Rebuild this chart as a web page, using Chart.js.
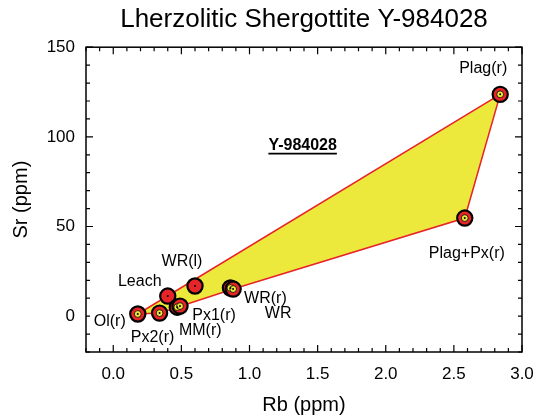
<!DOCTYPE html>
<html>
<head>
<meta charset="utf-8">
<script src="https://cdn.jsdelivr.net/npm/chart.js@4/dist/chart.umd.min.js"></script>
<style>
  body { margin: 0; background: #fff; }
  #wrap { width: 536px; height: 418px; }
</style>
</head>
<body>
<div id="wrap"><canvas id="srRbChart"></canvas></div>
<script>
// 試料名と Rb / Sr (ppm)
const names = ["Ol(r)", "Px2(r)", "Leach", "MM(r)", "Px1(r)", "WR(l)", "WR(r)", "WR", "Plag+Px(r)", "Plag(r)"];
const rb = [0.18, 0.34, 0.40, 0.47, 0.49, 0.60, 0.86, 0.88, 2.58, 2.84];
const sr = [1.2, 1.7, 11.2, 5.0, 5.6, 16.8, 15.7, 15.1, 54.7, 123.7];
// 残渣 (r) は黄色の中心付き
const residue = [true, true, false, true, true, false, true, true, true, true];
// 黄色い多角形の頂点（上のインデックス）
const hullOrder = [0, 9, 8, 7, 3, 1, 0];

const FONT = "'Liberation Sans', Arial, sans-serif";
const RED = "#e8242b";
const YELLOW = "#ece83c";

// ラベル位置の微調整（ピクセル）
const labelOffsets = {
  "Ol(r)": [-28, 8],
  "Px2(r)": [-7, 25],
  "Leach": [-28, -14],
  "MM(r)": [23, 23],
  "Px1(r)": [34, 9],
  "WR(l)": [-13, -24],
  "WR(r)": [35, 11],
  "WR": [45, 25],
  "Plag+Px(r)": [2, 36],
  "Plag(r)": [-17, -26],
};

const allPoints = rb.map((x, i) => ({ x, y: sr[i] }));
const hullPoints = hullOrder.map((i) => ({ x: rb[i], y: sr[i] }));
const residuePoints = allPoints.filter((_, i) => residue[i]);

/**
 * 枠・内向き目盛り・ラベル
 */
const framePlugin = {
  id: "frame",
  afterDatasetsDraw(chart) {
    const { ctx, chartArea: a, scales } = chart;
    ctx.save();
    ctx.strokeStyle = "#000";
    ctx.lineWidth = 1.5;
    ctx.strokeRect(a.left, a.top, a.right - a.left, a.bottom - a.top);

    ctx.lineWidth = 1.2;
    scales.x.ticks.forEach((t) => {
      const px = scales.x.getPixelForValue(t.value);
      const len = t.label ? 7 : 4;
      ctx.beginPath();
      ctx.moveTo(px, a.bottom); ctx.lineTo(px, a.bottom - len);
      ctx.moveTo(px, a.top); ctx.lineTo(px, a.top + len);
      ctx.stroke();
    });
    scales.y.ticks.forEach((t) => {
      const py = scales.y.getPixelForValue(t.value);
      const len = t.label ? 7 : 4;
      ctx.beginPath();
      ctx.moveTo(a.left, py); ctx.lineTo(a.left + len, py);
      ctx.moveTo(a.right, py); ctx.lineTo(a.right - len, py);
      ctx.stroke();
    });

    // 試料ラベル
    ctx.fillStyle = "#000";
    ctx.font = "16px " + FONT;
    ctx.textAlign = "center";
    ctx.textBaseline = "middle";
    names.forEach((n, i) => {
      const [dx, dy] = labelOffsets[n];
      const px = scales.x.getPixelForValue(rb[i]);
      const py = scales.y.getPixelForValue(sr[i]);
      ctx.fillText(n, px + dx, py + dy);
    });

    // 試料名（太字・下線）
    ctx.font = "bold 16px " + FONT;
    const tx = scales.x.getPixelForValue(1.39);
    const ty = scales.y.getPixelForValue(95.4);
    ctx.fillText("Y-984028", tx, ty);
    const w = ctx.measureText("Y-984028").width;
    ctx.lineWidth = 1.6;
    ctx.beginPath();
    ctx.moveTo(tx - w / 2, ty + 8.5);
    ctx.lineTo(tx + w / 2, ty + 8.5);
    ctx.stroke();
    ctx.restore();
  },
};

new Chart(document.getElementById("srRbChart"), {
  type: "scatter",
  data: {
    datasets: [
      {
        label: "hull",
        data: hullPoints,
        showLine: true,
        borderColor: RED,
        borderWidth: 1.5,
        backgroundColor: YELLOW,
        fill: "shape",
        pointRadius: 0,
        tension: 0,
        order: 4,
      },
      {
        label: "samples",
        data: allPoints,
        pointRadius: 7.6,
        backgroundColor: RED,
        borderColor: "#000",
        borderWidth: 2.2,
        order: 3,
      },
      {
        label: "residue",
        data: residuePoints,
        pointRadius: 3.4,
        backgroundColor: YELLOW,
        borderColor: "#000",
        borderWidth: 0.8,
        order: 2,
      },
      {
        label: "center",
        data: allPoints,
        pointRadius: 1,
        backgroundColor: "#000",
        borderWidth: 0,
        order: 1,
      },
    ],
  },
  options: {
    responsive: true,
    maintainAspectRatio: false,
    animation: false,
    layout: { padding: { left: 0, right: 14, top: 0, bottom: 0 } },
    plugins: {
      legend: { display: false },
      tooltip: { enabled: false },
      title: {
        display: true,
        fullSize: false,
        text: "Lherzolitic Shergottite Y-984028",
        color: "#000",
        font: { size: 26, family: FONT, weight: "normal" },
        padding: { top: 4, bottom: 12 },
      },
    },
    scales: {
      x: {
        type: "linear",
        min: -0.2,
        max: 3.0,
        afterFit: (s) => { s.height = 66; s.paddingLeft = 0; s.paddingRight = 0; },
        grid: { display: false, drawTicks: false },
        border: { display: false },
        ticks: {
          stepSize: 0.1,
          maxTicksLimit: 100,
          autoSkip: false,
          maxRotation: 0,
          padding: 12,
          color: "#000",
          font: { size: 17, family: FONT },
          callback: (v) => (Math.abs(v * 2 - Math.round(v * 2)) < 1e-6 ? Number(v).toFixed(1) : ""),
        },
        title: {
          display: true,
          text: "Rb (ppm)",
          color: "#000",
          font: { size: 20, family: FONT },
          padding: { top: 0, bottom: 1 },
        },
      },
      y: {
        type: "linear",
        min: -20,
        max: 150,
        afterFit: (s) => { s.width = 86; s.paddingTop = 0; s.paddingBottom = 0; },
        grid: { display: false, drawTicks: false },
        border: { display: false },
        ticks: {
          stepSize: 10,
          maxTicksLimit: 100,
          autoSkip: false,
          padding: 11,
          color: "#000",
          font: { size: 17, family: FONT },
          callback: (v) => (v % 50 === 0 ? v : ""),
        },
        title: {
          display: true,
          text: "Sr (ppm)",
          color: "#000",
          font: { size: 20, family: FONT },
          padding: { top: 9, bottom: 0 },
        },
      },
    },
  },
  plugins: [framePlugin],
});
</script>
</body>
</html>
